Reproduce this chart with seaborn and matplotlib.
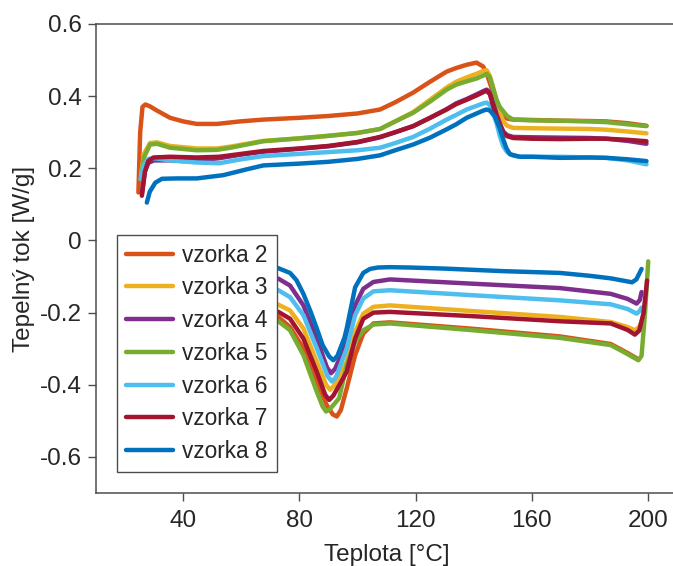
import matplotlib
matplotlib.use("Agg")
import matplotlib.pyplot as plt
import seaborn as sns
import pandas as pd
import numpy as np

# ---------------- data ----------------
labels = ["vzorka 2", "vzorka 3", "vzorka 4", "vzorka 5", "vzorka 6", "vzorka 7", "vzorka 8"]
colors = ["#D95319", "#EDB120", "#7E2F8E", "#77AC30", "#4DBEEE", "#A2142F", "#0072BD"]

# heating (upper) curves
T_heat_2 = [24.6, 25.2, 26.0, 27.0, 28.5, 31, 35.5, 40, 44.7, 51.6, 59.6, 67.6, 80, 90, 100, 107.8, 113, 119.2, 125,
            130.7, 134, 137.6, 141, 143.3, 144.5, 145.6, 146.8, 147.9, 149, 150.2, 151.5, 153.6, 160, 169.7, 180,
            185.7, 193, 199.5]
q_heat_2 = [0.133, 0.30, 0.37, 0.377, 0.372, 0.36, 0.340, 0.330, 0.323, 0.323, 0.330, 0.335, 0.34, 0.345, 0.352,
            0.363, 0.383, 0.410, 0.440, 0.468, 0.478, 0.487, 0.493, 0.482, 0.462, 0.436, 0.408, 0.381, 0.36, 0.344,
            0.338, 0.335, 0.334, 0.332, 0.331, 0.330, 0.325, 0.318]

T_heat_3 = [25.5, 26.5, 28.6, 31, 35.5, 44.7, 51.6, 56.2, 67.6, 80, 90, 100, 107.8, 113, 119.2, 125, 130.7, 134,
            137.6, 141, 143.3, 144.5, 145.6, 146.8, 147.9, 149, 150.2, 151.5, 153.6, 160, 169.7, 180, 185.7, 193, 199.5]
q_heat_3 = [0.18, 0.24, 0.27, 0.272, 0.262, 0.255, 0.255, 0.26, 0.276, 0.283, 0.29, 0.298, 0.309, 0.33, 0.356,
            0.39, 0.424, 0.44, 0.452, 0.462, 0.470, 0.472, 0.455, 0.42, 0.385, 0.355, 0.33, 0.318, 0.312, 0.311,
            0.310, 0.309, 0.307, 0.302, 0.297]

T_heat_4 = [25.8, 26.8, 28, 30, 35.5, 40, 44.7, 52.4, 60, 67.6, 80, 90, 100, 107.8, 113, 119.2, 125, 130.7, 134,
            137.6, 141, 143.3, 144.5, 145.6, 146.8, 147.9, 149, 150.2, 151.5, 153.6, 160, 169.7, 180, 185.7, 193, 199.5]
q_heat_4 = [0.13, 0.19, 0.215, 0.222, 0.222, 0.22, 0.222, 0.228, 0.238, 0.246, 0.254, 0.261, 0.272, 0.286, 0.30,
            0.317, 0.34, 0.364, 0.38, 0.392, 0.405, 0.414, 0.418, 0.41, 0.38, 0.35, 0.325, 0.302, 0.292, 0.287,
            0.286, 0.285, 0.284, 0.282, 0.276, 0.268]

T_heat_5 = [25.5, 26.5, 28.6, 31, 35.5, 44.7, 51.6, 56.2, 67.6, 80, 90, 100, 107.8, 113, 119.2, 125, 130.7, 134,
            137.6, 141, 143.3, 144.5, 145.6, 146.8, 147.9, 149, 150.2, 151.5, 153.6, 160, 169.7, 180, 185.7, 193, 199.5]
q_heat_5 = [0.17, 0.23, 0.266, 0.268, 0.257, 0.250, 0.251, 0.257, 0.275, 0.283, 0.29, 0.298, 0.309, 0.33, 0.354,
            0.385, 0.418, 0.432, 0.441, 0.449, 0.457, 0.462, 0.452, 0.42, 0.390, 0.37, 0.358, 0.345, 0.335, 0.333,
            0.332, 0.330, 0.328, 0.322, 0.317]

T_heat_6 = [25.3, 26.5, 28, 30, 35.5, 44.7, 52.4, 60, 67.6, 80, 90, 100, 107.8, 113, 119.2, 125, 130.7, 134, 137.6,
            141, 143.3, 144.5, 145.6, 146.8, 147.9, 149, 150.2, 151.5, 153.6, 155.9, 160, 169.7, 180, 185.7, 193, 199.5]
q_heat_6 = [0.17, 0.21, 0.226, 0.228, 0.222, 0.216, 0.214, 0.225, 0.234, 0.240, 0.245, 0.25, 0.257, 0.27, 0.287,
            0.31, 0.335, 0.348, 0.363, 0.373, 0.38, 0.382, 0.375, 0.35, 0.325, 0.29, 0.261, 0.245, 0.235, 0.232,
            0.232, 0.232, 0.23, 0.229, 0.222, 0.211]

T_heat_7 = [25.8, 26.8, 28, 29.8, 35.5, 44.7, 52.4, 60, 67.6, 80, 90, 100, 107.8, 113, 119.2, 125, 130.7, 134, 137.6,
            141, 143.3, 144.5, 145.6, 146.8, 147.9, 149, 150.2, 151.5, 153.6, 160, 169.7, 180, 185.7, 193, 199.5]
q_heat_7 = [0.124, 0.19, 0.22, 0.230, 0.232, 0.230, 0.232, 0.24, 0.248, 0.255, 0.262, 0.273, 0.287, 0.30, 0.317,
            0.34, 0.363, 0.378, 0.390, 0.402, 0.411, 0.415, 0.405, 0.37, 0.344, 0.32, 0.298, 0.289, 0.284, 0.282,
            0.281, 0.282, 0.282, 0.279, 0.275]

T_heat_8 = [27.5, 28.5, 30.4, 32.7, 38, 44.7, 53.8, 61.8, 67.6, 80, 90, 100, 107.8, 113, 119.2, 125, 130.7, 134,
            137.6, 141, 143.3, 144.5, 145.6, 147.3, 149, 150.2, 151.3, 152.5, 155.9, 160, 169.7, 180, 185.7, 193, 199.5]
q_heat_8 = [0.105, 0.135, 0.160, 0.171, 0.172, 0.172, 0.181, 0.197, 0.208, 0.213, 0.218, 0.226, 0.236, 0.25, 0.266,
            0.285, 0.308, 0.322, 0.340, 0.352, 0.36, 0.363, 0.36, 0.344, 0.31, 0.28, 0.255, 0.239, 0.232, 0.232,
            0.229, 0.23, 0.229, 0.225, 0.220]

# cooling (lower) curves
T_cool_2 = [62, 68, 72.8, 76.8, 81.4, 86.0, 89.4, 91.5, 92.9, 94.3, 96.3, 99.2, 102.0, 105.5, 111.2, 140, 169.7,
            187.2, 193, 196.0]
q_cool_2 = [-0.19, -0.20, -0.212, -0.24, -0.299, -0.391, -0.456, -0.482, -0.488, -0.470, -0.41, -0.318, -0.258,
            -0.23, -0.227, -0.245, -0.266, -0.287, -0.312, -0.326]

T_cool_3 = [62, 68, 72.8, 76.8, 81.4, 86.0, 89.2, 90.6, 92.0, 96.3, 99.2, 102.0, 105.5, 111.2, 140, 169.7, 187.2,
            193, 195.5, 197.0, 197.8]
q_cool_3 = [-0.165, -0.17, -0.178, -0.194, -0.244, -0.336, -0.400, -0.414, -0.402, -0.336, -0.253, -0.203, -0.184,
            -0.18, -0.196, -0.212, -0.226, -0.24, -0.249, -0.24, -0.225]

T_cool_4 = [62, 68, 72.8, 76.8, 81.4, 86.0, 89.5, 90.9, 92.3, 96.3, 99.2, 102.0, 105.5, 111.2, 140, 169.7, 187.2,
            193, 196.1, 197.2, 197.8]
q_cool_4 = [-0.095, -0.10, -0.106, -0.125, -0.18, -0.272, -0.352, -0.368, -0.356, -0.281, -0.18, -0.134, -0.115,
            -0.108, -0.12, -0.132, -0.148, -0.162, -0.175, -0.165, -0.143]

T_cool_5 = [62, 68, 72.8, 76.8, 81.4, 86.0, 88.0, 89.2, 90.5, 93.7, 96.3, 99.2, 102.0, 105.5, 111.2, 140, 169.7,
            187.2, 193, 196.7, 197.8, 199.0, 200.1]
q_cool_5 = [-0.205, -0.215, -0.224, -0.249, -0.318, -0.419, -0.460, -0.474, -0.468, -0.437, -0.345, -0.281, -0.249,
            -0.233, -0.230, -0.249, -0.27, -0.29, -0.315, -0.332, -0.32, -0.2, -0.058]

T_cool_6 = [62, 68, 72.8, 76.8, 81.4, 86.0, 89.7, 91.2, 92.6, 96.3, 99.2, 102.0, 105.5, 111.2, 140, 169.7, 187.2,
            193, 196.1, 197.2, 197.8]
q_cool_6 = [-0.125, -0.13, -0.138, -0.157, -0.207, -0.299, -0.376, -0.391, -0.379, -0.299, -0.207, -0.161, -0.141,
            -0.138, -0.152, -0.166, -0.177, -0.19, -0.203, -0.195, -0.186]

T_cool_7 = [62, 68, 72.8, 76.8, 81.4, 86.0, 88.9, 90.3, 91.7, 96.3, 99.2, 102.0, 105.5, 111.2, 140, 169.7, 187.2,
            193, 195.5, 197.0, 198.5, 199.7]
q_cool_7 = [-0.185, -0.19, -0.198, -0.217, -0.272, -0.364, -0.428, -0.442, -0.430, -0.364, -0.272, -0.217, -0.2,
            -0.198, -0.21, -0.224, -0.23, -0.248, -0.261, -0.25, -0.2, -0.111]

T_cool_8 = [62, 68, 72.8, 76.8, 79, 81.4, 84, 86, 88, 90.3, 91.7, 93.1, 95.5, 96.3, 99.2, 102.0, 104.3, 107, 111.2,
            118, 130, 150, 169.7, 180, 187.2, 192.6, 194.5, 196, 197.8]
q_cool_8 = [-0.065, -0.07, -0.077, -0.09, -0.11, -0.148, -0.20, -0.244, -0.29, -0.322, -0.332, -0.32, -0.27, -0.244,
            -0.13, -0.09, -0.079, -0.075, -0.074, -0.075, -0.078, -0.085, -0.09, -0.098, -0.105, -0.113, -0.116,
            -0.108, -0.079]

x_ticks = [40, 80, 120, 160, 200]
y_ticks = [-0.6, -0.4, -0.2, 0, 0.2, 0.4, 0.6]
x_label = "Teplota [°C]"
y_label = "Tepelný tok [W/g]"

heat_T = [T_heat_2, T_heat_3, T_heat_4, T_heat_5, T_heat_6, T_heat_7, T_heat_8]
heat_q = [q_heat_2, q_heat_3, q_heat_4, q_heat_5, q_heat_6, q_heat_7, q_heat_8]
cool_T = [T_cool_2, T_cool_3, T_cool_4, T_cool_5, T_cool_6, T_cool_7, T_cool_8]
cool_q = [q_cool_2, q_cool_3, q_cool_4, q_cool_5, q_cool_6, q_cool_7, q_cool_8]

rows = []
for lab, Th, qh, Tc, qc in zip(labels, heat_T, heat_q, cool_T, cool_q):
    for t, q in zip(Th, qh):
        rows.append((lab, "ohrev", t, q))
    for t, q in zip(Tc, qc):
        rows.append((lab, "chlazeni", t, q))
df = pd.DataFrame(rows, columns=["vzorka", "segment", "T", "q"])

# ---------------- plotting ----------------
sns.set_theme(style="white")
plt.rcParams["font.family"] = ["Liberation Sans", "DejaVu Sans"]
plt.rcParams["axes.unicode_minus"] = False

fig = plt.figure(figsize=(6.73, 5.66), dpi=100)
ax = fig.add_axes([96 / 673, 1 - 493 / 566, (677 - 96) / 673, (493 - 24) / 566])

sns.lineplot(data=df, x="T", y="q", hue="vzorka", units="segment", estimator=None, sort=False,
             palette=dict(zip(labels, colors)), hue_order=labels, linewidth=3.2, ax=ax, legend=True)

ax.set_xlim(10, 210)
ax.set_ylim(-0.7, 0.6)
ax.set_xticks(x_ticks)
ax.set_yticks(y_ticks)
ax.set_yticklabels(["%g" % v for v in y_ticks])
ax.set_xlabel(x_label, fontsize=17.5, color="#262626", labelpad=9)
ax.set_ylabel(y_label, fontsize=17.5, color="#262626", labelpad=4)

for side in ["left", "bottom", "top", "right"]:
    ax.spines[side].set_visible(True)
    ax.spines[side].set_color("#4d4d4d")
    ax.spines[side].set_linewidth(1.1)
ax.tick_params(axis="both", which="both", direction="out", length=6, width=1.0, color="#4d4d4d",
               labelsize=17.5, labelcolor="#262626", left=True, bottom=True, top=False, right=False)
ax.tick_params(axis="x", pad=6)
ax.tick_params(axis="y", pad=4)

handles, hl = ax.get_legend_handles_labels()
leg = ax.legend(handles[:len(labels)], labels, loc="upper left",
                bbox_to_anchor=((117.3 - 96) / 581, (493 - 235) / 469), borderaxespad=0,
                fontsize=16.3, frameon=True, fancybox=False, framealpha=1.0, edgecolor="#4d4d4d",
                handlelength=2.1, handletextpad=0.4, labelspacing=0.43, borderpad=0.38)
leg.get_frame().set_linewidth(1.0)
for h in leg.get_lines():
    h.set_linewidth(3.2)
for t in leg.get_texts():
    t.set_color("#262626")
leg.set_zorder(10)

fig.savefig("out.png", dpi=100)
